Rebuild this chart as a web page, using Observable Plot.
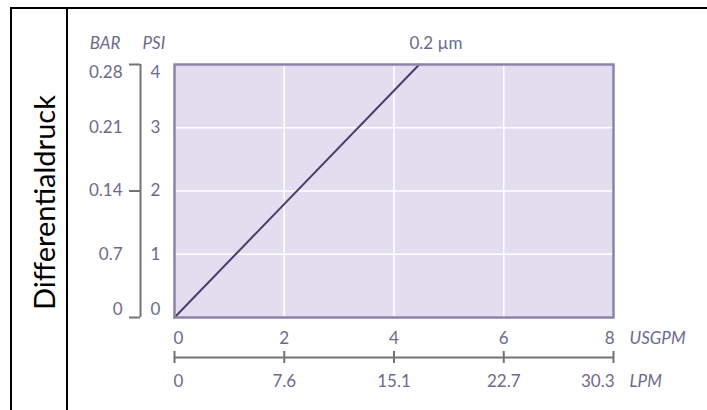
<!DOCTYPE html>
<html><head><meta charset="utf-8">
<script src="https://cdn.jsdelivr.net/npm/d3@7"></script>
<script src="https://cdn.jsdelivr.net/npm/@observablehq/plot@0.6"></script>
<style>
body{margin:0;background:#fff;}
#wrap{position:relative;width:707px;height:410px;overflow:hidden;background:#fff;}
#wrap svg{position:absolute;left:0;top:0;}
.tline{position:absolute;background:#000;}
</style></head><body>
<div id="wrap">
  <div class="tline" style="left:10px;top:7px;width:697px;height:2px;"></div>
  <div class="tline" style="left:10px;top:7px;width:2px;height:403px;"></div>
  <div class="tline" style="left:66px;top:7px;width:2px;height:403px;"></div>
</div>
<script>
// Data
const usgpmTicks = [0, 2, 4, 6, 8];
const lpmLabels = ["0", "7.6", "15.1", "22.7", "30.3"];
const psiTicks = [0, 1, 2, 3, 4];
const barLabels = ["0", "0.7", "0.14", "0.21", "0.28"];
const psiMajorTicks = [0, 2, 4];
const flowUSGPM = [0, 4.46];
const pressurePSI = [0, 4];
const seriesLabel = "0.2 µm";
const yTitle = "Differentialdruck";
const xUnit = "USGPM", x2Unit = "LPM", yUnit = "PSI", y2Unit = "BAR";

const lineData = flowUSGPM.map((x, i) => ({x, y: pressurePSI[i]}));
const textColor = "#6a6b8c";
const axisColor = "#737373";

const yIdx = psiTicks.map((d, i) => i);
const xIdx = usgpmTicks.map((d, i) => i);
const yInner = yIdx.filter(i => i > 0 && i < psiTicks.length - 1);
const yFirst = [0], yLast = [psiTicks.length - 1];
const xInner = xIdx.filter(i => i > 0 && i < usgpmTicks.length - 1);
const xFirst = [0], xLast = [usgpmTicks.length - 1];

const T = {fill: textColor, lineAnchor: "middle"};

function yLabels(idx, dy) {
  return [
    Plot.text(idx, {...T, y: i => psiTicks[i], frameAnchor: "left", dx: -24, dy, textAnchor: "start", text: i => String(psiTicks[i])}),
    Plot.text(idx, {...T, y: i => psiTicks[i], frameAnchor: "left", dx: -52, dy, textAnchor: "end", text: i => barLabels[i]})
  ];
}
function xLabels(idx, anchor, dx) {
  return [
    Plot.text(idx, {...T, x: i => usgpmTicks[i], frameAnchor: "bottom", dx, dy: 21, textAnchor: anchor, text: i => String(usgpmTicks[i])}),
    Plot.text(idx, {...T, x: i => usgpmTicks[i], frameAnchor: "bottom", dx, dy: 64, textAnchor: anchor, text: i => lpmLabels[i]})
  ];
}

const chart = Plot.plot({
  width: 707, height: 410,
  marginLeft: 174, marginRight: 94, marginTop: 64, marginBottom: 93,
  x: {domain: [0, 8], axis: null},
  y: {domain: [0, 4], axis: null},
  style: {fontFamily: "Lato, sans-serif", fontSize: "17px", color: textColor, background: "transparent", overflow: "visible"},
  marks: [
    Plot.frame({fill: "#e2deef", stroke: null}),
    Plot.gridX(usgpmTicks.slice(1, -1), {stroke: "#ffffff", strokeOpacity: 1, strokeWidth: 1.5}),
    Plot.gridY(psiTicks.slice(1, -1), {stroke: "#ffffff", strokeOpacity: 1, strokeWidth: 1.5}),
    Plot.line(lineData, {x: "x", y: "y", stroke: "#4a3c6c", strokeWidth: 2}),
    Plot.frame({stroke: "#8e82aa", strokeWidth: 2.5}),
    // left double axis
    Plot.ruleX([0], {y1: 0, y2: 4, dx: -34, stroke: axisColor, strokeWidth: 2}),
    Plot.axisY(psiMajorTicks, {anchor: "left", tickSize: 11, dx: -34, fill: "none", stroke: axisColor, strokeWidth: 2, label: null}),
    ...yLabels(yInner, 0),
    ...yLabels(yFirst, -8),
    ...yLabels(yLast, 8),
    Plot.text([y2Unit], {...T, frameAnchor: "top-left", dx: -54, dy: -21, textAnchor: "end", fontStyle: "italic", text: d => d}),
    Plot.text([yUnit], {...T, frameAnchor: "top-left", dx: -32, dy: -21, textAnchor: "start", fontStyle: "italic", text: d => d}),
    // bottom double axis
    Plot.ruleY([0], {x1: 0, x2: 8, dy: 40, stroke: axisColor, strokeWidth: 2}),
    Plot.axisX(usgpmTicks, {anchor: "bottom", tickSize: 12, dy: 34, fill: "none", stroke: axisColor, strokeWidth: 2, label: null}),
    ...xLabels(xInner, "middle", 0),
    ...xLabels(xFirst, "start", -1),
    ...xLabels(xLast, "end", 1),
    Plot.text([xUnit], {...T, frameAnchor: "bottom-right", dx: 16, dy: 21, textAnchor: "start", fontStyle: "italic", text: d => d}),
    Plot.text([x2Unit], {...T, frameAnchor: "bottom-right", dx: 16, dy: 64, textAnchor: "start", fontStyle: "italic", text: d => d}),
    // series label
    Plot.text([seriesLabel], {...T, frameAnchor: "top", dx: 42, dy: -21, text: d => d}),
    // row header
    Plot.text([yTitle], {frameAnchor: "left", rotate: -90, dx: -120, dy: 11.5, textAnchor: "middle", lineAnchor: "bottom", fontSize: 29, fill: "#000", text: d => d})
  ]
});
document.getElementById("wrap").prepend(chart);
</script>
</body></html>
